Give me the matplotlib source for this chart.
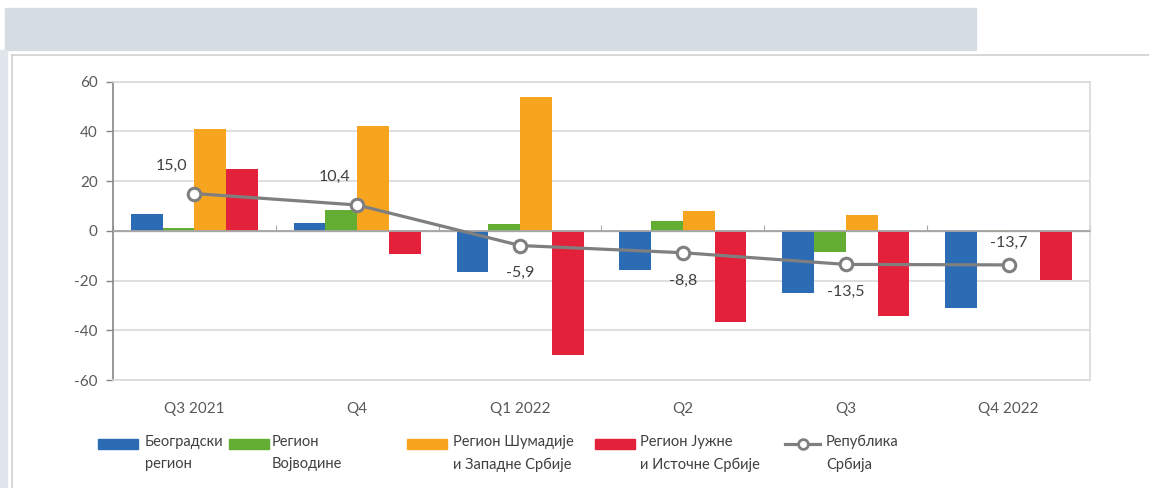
import numpy as np
import matplotlib
matplotlib.use('Agg')
import matplotlib.pyplot as plt
from matplotlib.patches import Rectangle
from matplotlib.lines import Line2D

plt.rcParams['font.family'] = ['Lato', 'DejaVu Sans']
plt.rcParams['axes.unicode_minus'] = False

quarters = ['Q3 2021', 'Q4', 'Q1 2022', 'Q2', 'Q3', 'Q4 2022']

beograd   = [6.6, 3.2, -16.5, -15.6, -25.0, -31.0]
vojvodina = [1.2, 8.2, 2.6, 3.8, -8.7, -0.5]
sumadija  = [40.9, 42.3, 53.7, 7.9, 6.4, 0.0]
juzna     = [24.7, -9.5, -49.8, -36.5, -34.1, -19.9]
srbija    = [15.0, 10.4, -5.9, -8.8, -13.5, -13.7]

series_names = ['Београдски\nрегион', 'Регион\nВојводине',
                'Регион Шумадије\nи Западне Србије', 'Регион Јужне\nи Источне Србије']
line_name = 'Република\nСрбија'
colors = ['#2C6CB5', '#62AD32', '#F7A51E', '#E3213A']
line_color = '#7F7F7F'
text_color = '#404040'
tick_color = '#595959'

W, H = 1149, 488
fig = plt.figure(figsize=(W / 100, H / 100), dpi=100)

# фон: полоса сверху, полоса слева, рамка
fig.patches.append(Rectangle((5 / W, 1 - 50 / H), 971 / W, 42 / H,
                             transform=fig.transFigure, color='#D6DCE4', zorder=0))
fig.patches.append(Rectangle((0, 0), 7 / W, 1 - 50 / H,
                             transform=fig.transFigure, color='#E1E6EC', zorder=0))
fig.lines.append(Line2D([12 / W, 1], [1 - 55 / H, 1 - 55 / H],
                        transform=fig.transFigure, color='#D0D0D0', lw=1.2))
fig.lines.append(Line2D([12 / W, 12 / W], [0, 1 - 55 / H],
                        transform=fig.transFigure, color='#D0D0D0', lw=1.2))

ax = fig.add_axes([113 / W, (H - 380) / H, (1090 - 113) / W, (380 - 81.7) / H])

x = np.arange(len(quarters))
bw = 0.195
data = [beograd, vojvodina, sumadija, juzna]
for i, (vals, c) in enumerate(zip(data, colors)):
    ax.bar(x + (i - 1.5) * bw, vals, bw, color=c, zorder=3)

ax.plot(x, srbija, color=line_color, lw=2.3, marker='o', ms=9,
        mfc='white', mec=line_color, mew=2.2, zorder=5)

# подписи значений
offsets = [(-16.5, 20), (-16.5, 20), (0, -20), (0, -20), (0, -20), (0, 16)]
for xi, v, (dx, dy) in zip(x, srbija, offsets):
    ax.annotate(f'{v:.1f}'.replace('.', ','), (xi, v), xytext=(dx, dy),
                textcoords='offset points', ha='center', va='center',
                fontsize=11.5, color=text_color, zorder=6)

ax.set_xlim(-0.5, len(quarters) - 0.5)
ax.set_ylim(-60, 60)
ax.set_yticks(np.arange(-60, 61, 20))
ax.grid(axis='y', color='#D9D9D9', lw=1.2, zorder=0)
ax.axhline(0, color='#A6A6A6', lw=1.3, zorder=4)

ax.set_xticks(x)
ax.set_xticklabels(quarters)
ax.tick_params(axis='x', length=0, pad=16, labelsize=11, labelcolor=tick_color)
ax.tick_params(axis='y', length=5, width=1, color='#868686', direction='out',
               labelsize=11, labelcolor=tick_color, pad=6)

for s in ['top', 'right', 'bottom']:
    ax.spines[s].set_color('#D9D9D9')
    ax.spines[s].set_linewidth(1.2)
ax.spines['left'].set_color('#868686')
ax.spines['left'].set_linewidth(1.2)

# засечки на нулевой линии
sec = ax.secondary_xaxis(0.5)
sec.set_xticks(np.arange(-0.5, len(quarters), 1.0))
sec.set_xticklabels([])
sec.tick_params(axis='x', length=4, color='#A6A6A6', direction='out')
sec.spines['bottom'].set_visible(False)

# легенда
leg_x = [98, 229, 407, 595]
text_x = [145, 272, 453, 640]
leg_y = 444
for lx, tx, c, name in zip(leg_x, text_x, colors, series_names):
    fig.patches.append(Rectangle((lx / W, 1 - 449 / H), 40 / W, 10 / H,
                                 transform=fig.transFigure, color=c))
    fig.text(tx / W, 1 - 435 / H, name, ha='left', va='top', fontsize=10.5,
             color=text_color, linespacing=1.75)
fig.lines.append(Line2D([785 / W, 802.5 / W, 820 / W], [1 - leg_y / H] * 3,
                        transform=fig.transFigure, color=line_color, lw=2.3,
                        marker='o', markevery=[1], ms=7, mfc='white',
                        mec=line_color, mew=2))
fig.text(826 / W, 1 - 435 / H, line_name, ha='left', va='top', fontsize=10.5,
         color=text_color, linespacing=1.75)

fig.savefig('out.png', dpi=100)
